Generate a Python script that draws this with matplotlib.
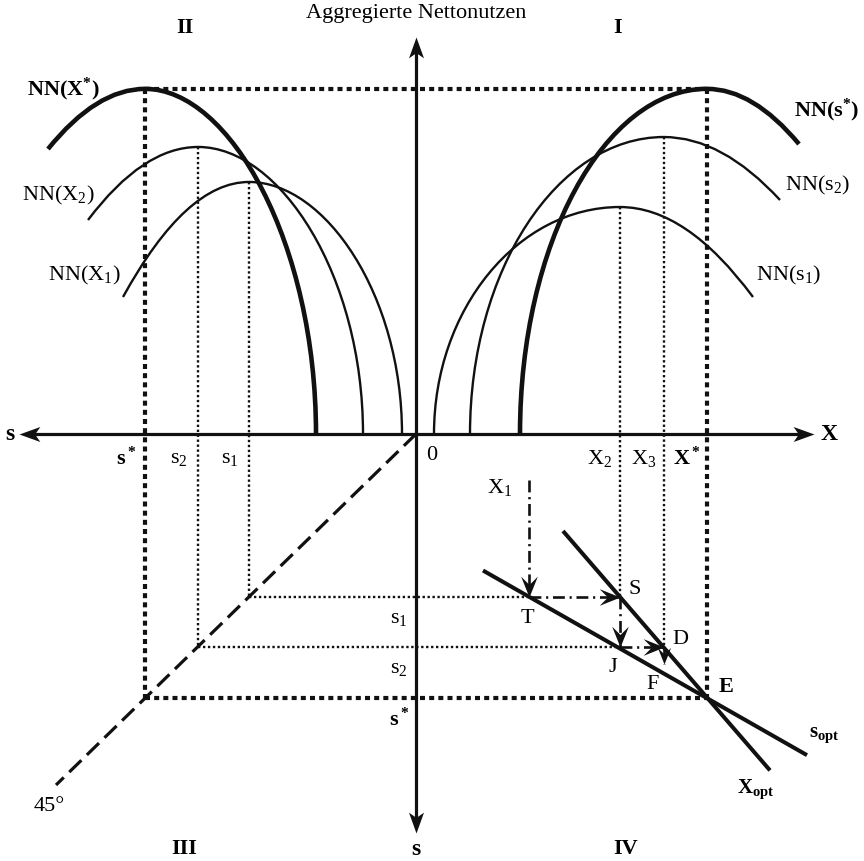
import matplotlib
matplotlib.use('Agg')
import matplotlib.pyplot as plt
from matplotlib.path import Path
from matplotlib.patches import PathPatch

plt.rcParams['font.family'] = ['Liberation Serif', 'DejaVu Serif']
plt.rcParams['mathtext.fontset'] = 'custom'
plt.rcParams['mathtext.rm'] = 'Liberation Serif'
plt.rcParams['mathtext.it'] = 'Liberation Serif:italic'
plt.rcParams['mathtext.bf'] = 'Liberation Serif:bold'

# ---------------- data (diagram units) ----------------
# s levels: s1, s2, s*
s_vals = [167, 218, 271]
s_labels = [r'$\mathrm{s_1}$', r'$\mathrm{s_2}$', r'$\mathbf{s^*}$']
# X levels: X1, X2, X3, X*
X_vals = [113, 204, 248, 291]
X_labels = [r'$\mathrm{X_1}$', r'$\mathrm{X_2}$', r'$\mathrm{X_3}$', r'$\mathbf{X^*}$']

# Quadrant II: NN(X) curves over s (NN(X1), NN(X2), NN(X*))
nnX_labels = [r'$\mathrm{NN(X_1)}$', r'$\mathrm{NN(X_2)}$', r'$\mathbf{NN(X^{*})}$']
nnX_left_s = [293, 328, 368]
nnX_left_v = [140.5, 219.5, 292.3]
nnX_peak_s = [167, 218, 271]
nnX_peak_v = [258.5, 294.4, 354.0]
nnX_root_s = [14, 53, 100]

# Quadrant I: NN(s) curves over X (NN(s1), NN(s2), NN(s*))
nns_labels = [r'$\mathrm{NN(s_1)}$', r'$\mathrm{NN(s_2)}$', r'$\mathbf{NN(s^{*})}$']
nns_root_X = [18, 54, 104]
nns_peak_X = [204, 248, 291]
nns_peak_v = [232.8, 304.6, 354.0]
nns_right_X = [337, 364, 383]
nns_right_v = [140.5, 240.0, 297.4]

# Quadrant IV: reaction lines (X, s)
xopt_X = [147, 354]
xopt_s = [99.5, 345.0]
sopt_X = [67, 391]
sopt_s = [140.0, 329.4]

# adjustment path: X1 -> T -> S -> J -> D -> F
path_X = [113, 113, 204, 204, 248, 248]
path_s = [47, 167, 167, 218, 218, 236]

# ---------------- figure ----------------
K = 0.975
fig = plt.figure(figsize=(8.64, 8.61), dpi=100)
ax = fig.add_axes([0, 0, 1, 1])
ax.set_xlim(-416, 448)
ax.set_ylim(-427 / K, 434 / K)
ax.axis('off')

BLACK = '#111111'
FS = 16

def stealth(direction, notch=0.55, w=0.42):
    base = [(0, 0), (-1, w), (-notch, 0), (-1, -w), (0, 0)]
    if direction == 'right':
        return base
    if direction == 'left':
        return [(-x, y) for x, y in base]
    if direction == 'down':
        return [(y, -x) for x, y in base]
    if direction == 'up':
        return [(y, x) for x, y in base]

def head(x, y, direction, ms=19, notch=0.55, w=0.42):
    ax.plot([x], [y], marker=stealth(direction, notch, w), ms=ms, color=BLACK,
            mew=0, ls='none', zorder=6)

# axes
AX_LW = 2.3
ax.plot([-390, 392], [0, 0], color=BLACK, lw=AX_LW, solid_capstyle='butt', zorder=4)
ax.plot([0, 0], [-402, 400], color=BLACK, lw=AX_LW, solid_capstyle='butt', zorder=4)
head(-397, 0, 'left', ms=30, notch=0.75, w=0.36)
head(398, 0, 'right', ms=30, notch=0.75, w=0.36)
head(0, 407, 'up', ms=30, notch=0.75, w=0.36)
head(0, -409, 'down', ms=30, notch=0.75, w=0.36)

# 45 degree line
ax.plot([0, -360], [0, -360], color=BLACK, lw=2.3, dashes=(5.3, 2.4),
        dash_capstyle='butt', zorder=3)

# curves quadrant II
def curve_left(ls, lv, ps, pv, rs, lw):
    xl, xp, xr = -ls, -ps, -rs
    k = 0.5
    verts = [(xl, lv), ((xl + xp) / 2, pv), (xp, pv),
             (xp + k * (xr - xp), pv), (xr, 0.55 * pv), (xr, 0)]
    codes = [Path.MOVETO, Path.CURVE3, Path.CURVE3,
             Path.CURVE4, Path.CURVE4, Path.CURVE4]
    ax.add_patch(PathPatch(Path(verts, codes), fill=False, lw=lw,
                           edgecolor=BLACK, capstyle='butt', zorder=5))

def curve_right(rx, px, pv, ex, ev, lw):
    k = 0.55
    verts = [(rx, 0), (rx, k * pv), (px - k * (px - rx), pv), (px, pv),
             ((px + ex) / 2, pv), (ex, ev)]
    codes = [Path.MOVETO, Path.CURVE4, Path.CURVE4, Path.CURVE4,
             Path.CURVE3, Path.CURVE3]
    ax.add_patch(PathPatch(Path(verts, codes), fill=False, lw=lw,
                           edgecolor=BLACK, capstyle='butt', zorder=5))

for i in range(3):
    lw = 3.3 if i == 2 else 1.7
    curve_left(nnX_left_s[i], nnX_left_v[i], nnX_peak_s[i], nnX_peak_v[i], nnX_root_s[i], lw)
    curve_right(nns_root_X[i], nns_peak_X[i], nns_peak_v[i], nns_right_X[i], nns_right_v[i], lw)

# dotted guide lines
thin = dict(color=BLACK, lw=1.7, dashes=(1.0, 1.1), dash_capstyle='butt', zorder=2)
thick = dict(color=BLACK, lw=3.0, dashes=(1.2, 1.0), dash_capstyle='butt', zorder=2)

# s verticals (quadrant II -> III) and horizontals to quadrant IV
ends_X = [path_X[1], path_X[3], X_vals[3]]  # T, J, E
for i in range(3):
    st = thick if i == 2 else thin
    ax.plot([-s_vals[i], -s_vals[i]], [nnX_peak_v[i], -s_vals[i]], **st)
    ax.plot([-s_vals[i], ends_X[i]], [-s_vals[i], -s_vals[i]], **st)

# X verticals (quadrant I -> IV)
ends_s = [s_vals[0], s_vals[1], s_vals[2]]  # S, D, E
for i in range(3):
    st = thick if i == 2 else thin
    ax.plot([nns_peak_X[i], nns_peak_X[i]], [nns_peak_v[i], -ends_s[i]], **st)

# top horizontal
ax.plot([-nnX_peak_s[2], nns_peak_X[2]], [nnX_peak_v[2], nns_peak_v[2]], **thick)

# reaction lines
ax.plot(xopt_X, [-v for v in xopt_s], color=BLACK, lw=2.9, solid_capstyle='butt', zorder=5)
ax.plot(sopt_X, [-v for v in sopt_s], color=BLACK, lw=2.9, solid_capstyle='butt', zorder=5)

# adjustment arrows (dash-dot)
for i in range(len(path_X) - 1):
    x0, y0 = path_X[i], -path_s[i]
    x1, y1 = path_X[i + 1], -path_s[i + 1]
    ax.plot([x0, x1], [y0, y1], color=BLACK, lw=1.9, dashes=(4.5, 1.8, 0.8, 1.8),
            dash_capstyle='butt', zorder=6)
    if x1 > x0:
        d = 'right'
    elif y1 < y0:
        d = 'down'
    else:
        d = 'up'
    head(x1, y1, d, ms=30 if i < 4 else 24, notch=0.6, w=0.4)

# ---------------- texts ----------------
ax.text(0, 431, 'Aggregierte Nettonutzen', ha='center', va='center', fontsize=FS)
for txt, x, y in [('II', -231, 416), ('I', 202, 416), ('III', -232, -426), ('IV', 210, -426)]:
    ax.text(x, y, txt, ha='center', va='center', fontsize=FS, fontweight='bold')
ax.text(-406, 0, 's', ha='center', va='center', fontsize=FS + 1, fontweight='bold')
ax.text(413, 0, 'X', ha='center', va='center', fontsize=FS + 1, fontweight='bold')
ax.text(0, -426, 's', ha='center', va='center', fontsize=FS + 1, fontweight='bold')
ax.text(16, -22, '0', ha='center', va='center', fontsize=FS)

# curve labels
nnX_lab_pos = [(-332, 163), (-358, 245), (-353, 353)]
nns_lab_pos = [(373, 163), (402, 255), (411, 332)]
for i in range(3):
    ax.text(*nnX_lab_pos[i], nnX_labels[i], ha='center', va='center', fontsize=FS)
    ax.text(*nns_lab_pos[i], nns_labels[i], ha='center', va='center', fontsize=FS)

# s labels on horizontal axis (left) and vertical axis (down)
for i in range(3):
    ax.text(-s_vals[i] - 19, -25, s_labels[i], ha='center', va='center', fontsize=FS)
    ax.text(-17, -s_vals[i] - 22, s_labels[i], ha='center', va='center', fontsize=FS)

# X labels
ax.text(X_vals[0] - 29, -55, X_labels[0], ha='center', va='center', fontsize=FS)
for i in range(1, 4):
    ax.text(X_vals[i] - 20, -25, X_labels[i], ha='center', va='center', fontsize=FS)

# point labels
for txt, x, y, bold in [('S', 219, -160, False), ('T', 111, -189, False),
                        ('D', 264, -211, False), ('J', 197, -239, False),
                        ('F', 237, -257, False), ('E', 310, -260, True)]:
    ax.text(x, y, txt, ha='center', va='center', fontsize=FS,
            fontweight='bold' if bold else 'normal')
ax.text(408, -309, r'$\mathbf{s_{opt}}$', ha='center', va='center', fontsize=FS - 1)
ax.text(340, -364, r'$\mathbf{X_{opt}}$', ha='center', va='center', fontsize=FS - 1)
ax.text(-367, -382, '45°', ha='center', va='center', fontsize=FS)

fig.savefig('out.png', dpi=100)
